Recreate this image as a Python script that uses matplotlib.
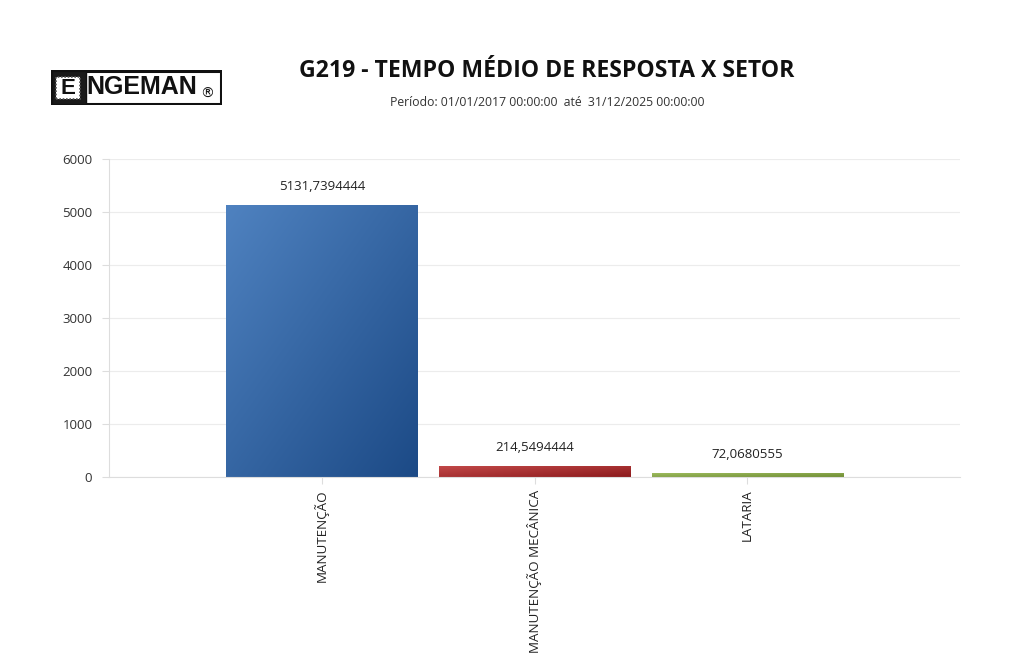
import numpy as np
import matplotlib
matplotlib.use("Agg")
import matplotlib.pyplot as plt
from matplotlib.patches import Rectangle
from matplotlib.colors import LinearSegmentedColormap

plt.rcParams['font.family'] = ['Open Sans', 'DejaVu Sans']

categories = ["MANUTENÇÃO", "MANUTENÇÃO MECÂNICA", "LATARIA"]
values = [5131.7394444, 214.5494444, 72.0680555]
value_labels = ["5131,7394444", "214,5494444", "72,0680555"]
yticks = [0, 1000, 2000, 3000, 4000, 5000, 6000]
colors_light = ["#4f82c0", "#c44a4a", "#9dbb5e"]
colors_dark = ["#1c4a86", "#8c1a1c", "#6f8d33"]

fig = plt.figure(figsize=(10.24, 6.68), dpi=100)
W, H = 1024, 668
ax = fig.add_axes([109 / W, 1 - 477 / H, (960 - 109) / W, (477 - 159) / H])

x = np.arange(len(categories))
bars = ax.bar(x, values, width=0.9, color="none", edgecolor="none", zorder=2)

# gradient fills
yy, xx = np.mgrid[0:1:200j, 0:1:200j]
grad = (xx * 0.5 + (1 - yy) * 0.5)
for b, cl, cd in zip(bars, colors_light, colors_dark):
    cmap = LinearSegmentedColormap.from_list("g", [cl, cd])
    x0, y0 = b.get_x(), b.get_y()
    w, h = b.get_width(), b.get_height()
    im = ax.imshow(grad, cmap=cmap, extent=(x0, x0 + w, y0 + h, y0),
                   aspect="auto", origin="upper", zorder=2, interpolation="bilinear")
    im.set_clip_path(b)

for xi, v, lab in zip(x, values, value_labels):
    ax.annotate(lab, (xi, v), xytext=(0, 8.5), textcoords="offset points",
                ha="center", va="bottom", fontsize=9.5, color="#222222")

ax.set_xlim(-1, 3)
ax.set_ylim(0, 6000)
ax.set_yticks(yticks)
ax.set_yticklabels([str(t) for t in yticks], fontsize=9.5, color="#333333")
ax.set_xticks(x)
ax.set_xticklabels(categories, rotation=90, fontsize=9.6, color="#222222")
ax.grid(axis="y", color="#ececec", linewidth=0.8, zorder=0)
ax.set_axisbelow(True)
for s in ["top", "right"]:
    ax.spines[s].set_visible(False)
for s in ["left", "bottom"]:
    ax.spines[s].set_color("#dddddd")
    ax.spines[s].set_linewidth(0.8)
ax.tick_params(axis="both", color="#dddddd", length=5, width=0.8)
ax.tick_params(axis="y", pad=7)
ax.tick_params(axis="x", pad=4)
ax.set_xlim(-1, 3)

# Title
fig.text(547 / W, 1 - 71 / H, "G219 - TEMPO MÉDIO DE RESPOSTA X SETOR",
         ha="center", va="center", fontsize=16.6, fontweight="bold", color="#111111")
fig.text(547 / W, 1 - 102 / H, "Período: 01/01/2017 00:00:00  até  31/12/2025 00:00:00",
         ha="center", va="center", fontsize=8.8, color="#333333")

# Logo
lax = fig.add_axes([51 / W, 1 - 105 / H, (222 - 51) / W, 35 / H])
lax.set_xlim(0, 171)
lax.set_ylim(0, 35)
lax.axis("off")
lax.add_patch(Rectangle((1, 1), 169, 33, fill=False, edgecolor="#111111", linewidth=2.2))
lax.add_patch(Rectangle((1, 1), 34, 33, facecolor="#1a1a1a", edgecolor="#111111"))
lax.add_patch(Rectangle((5, 6), 24, 22, facecolor="white", edgecolor="#555555", linewidth=1.2,
                        linestyle=(0, (1, 1))))
lax.text(17, 17, "E", ha="center", va="center", fontsize=16, fontweight="bold",
         color="#111111", family="Liberation Sans")
lax.text(35, 17.5, "NGEMAN", ha="left", va="center", fontsize=18, fontweight="bold",
         color="#111111", family="Liberation Sans")
lax.text(156, 11, "®", ha="center", va="center", fontsize=10, color="#111111",
         family="DejaVu Sans")

fig.savefig("out.png", dpi=100, facecolor="white")
